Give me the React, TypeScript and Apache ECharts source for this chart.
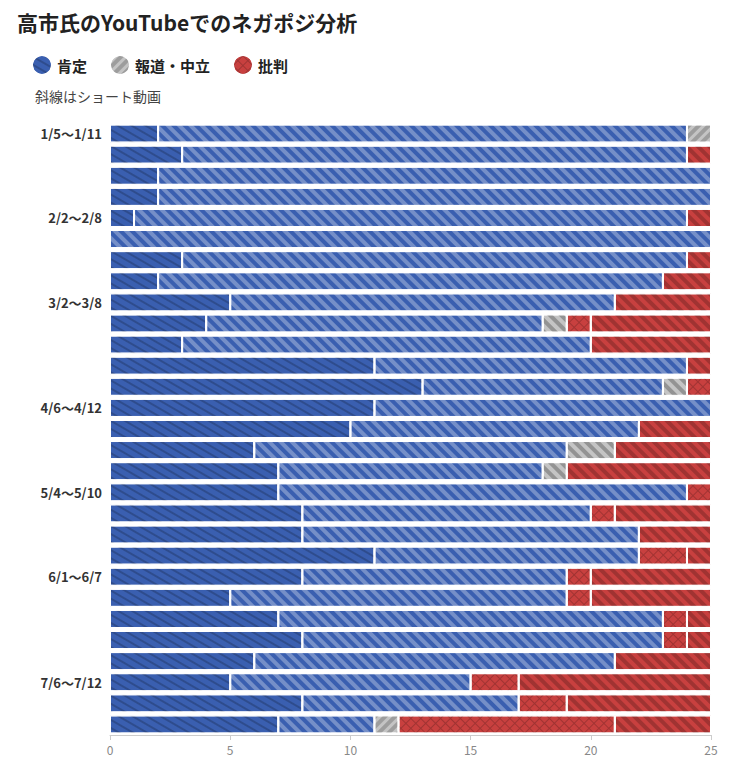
import { useEffect, useRef } from "react";
import * as echarts from "echarts";

// 週ごとの件数（1/5〜7/20）
const weeks = [
  "1/5〜1/11", "1/12〜1/18", "1/19〜1/25", "1/26〜2/1",
  "2/2〜2/8", "2/9〜2/15", "2/16〜2/22", "2/23〜3/1",
  "3/2〜3/8", "3/9〜3/15", "3/16〜3/22", "3/23〜3/29", "3/30〜4/5",
  "4/6〜4/12", "4/13〜4/19", "4/20〜4/26", "4/27〜5/3",
  "5/4〜5/10", "5/11〜5/17", "5/18〜5/24", "5/25〜5/31",
  "6/1〜6/7", "6/8〜6/14", "6/15〜6/21", "6/22〜6/28", "6/29〜7/5",
  "7/6〜7/12", "7/13〜7/19", "7/20〜7/26",
];
const shownLabels = ["1/5〜1/11", "2/2〜2/8", "3/2〜3/8", "4/6〜4/12", "5/4〜5/10", "6/1〜6/7", "7/6〜7/12"];

const posNormal = [2, 3, 2, 2, 1, 0, 3, 2, 5, 4, 3, 11, 13, 11, 10, 6, 7, 7, 8, 8, 11, 8, 5, 7, 8, 6, 5, 8, 7];
const posShort = [22, 21, 23, 23, 23, 25, 21, 21, 16, 14, 17, 13, 10, 14, 12, 13, 11, 17, 12, 14, 11, 11, 14, 16, 15, 15, 10, 9, 4];
const neuNormal = [1, 0, 0, 0, 0, 0, 0, 0, 0, 0, 0, 0, 0, 0, 0, 0, 0, 0, 0, 0, 0, 0, 0, 0, 0, 0, 0, 0, 1];
const neuShort = [0, 0, 0, 0, 0, 0, 0, 0, 0, 1, 0, 0, 1, 0, 0, 2, 1, 0, 0, 0, 0, 0, 0, 0, 0, 0, 0, 0, 0];
const negNormal = [0, 0, 0, 0, 0, 0, 0, 0, 0, 1, 0, 0, 1, 0, 0, 0, 0, 1, 1, 0, 2, 1, 1, 1, 1, 0, 2, 2, 9];
const negShort = [0, 1, 0, 0, 1, 0, 1, 2, 4, 5, 5, 1, 0, 0, 3, 4, 6, 0, 4, 3, 1, 5, 5, 1, 1, 4, 8, 6, 4];

const BLUE = "#3a5fb0";
const GRAY = "#c4c4c4";
const RED = "#c8403f";
const FONT = "'Noto Sans CJK JP', 'Noto Sans', sans-serif";

const hatch = (color: string) => ({
  symbol: "rect",
  symbolSize: 1,
  dashArrayX: [1, 0],
  dashArrayY: [4, 4],
  rotation: Math.PI / 4,
  color,
});

export default function App() {
  const ref = useRef<HTMLDivElement | null>(null);

  useEffect(() => {
    if (!ref.current) return;
    const chart = echarts.init(ref.current, undefined, { renderer: "svg" });

    const bar = (name: string, data: number[], color: string, decalColor?: string) => ({
      name,
      type: "bar" as const,
      stack: "all",
      barCategoryGap: "14%",
      data,
      itemStyle: {
        color,
        borderColor: "#fff",
        borderWidth: 1,
        decal: decalColor ? hatch(decalColor) : undefined,
      },
    });

    chart.setOption({
      animation: false,
      textStyle: { fontFamily: FONT },
      aria: { enabled: true, decal: { show: true } },
      title: [
        {
          text: "高市氏のYouTubeでのネガポジ分析",
          left: 12,
          top: 6,
          textStyle: { fontSize: 21, fontWeight: "bold", color: "#222", fontFamily: FONT },
        },
        {
          text: "斜線はショート動画",
          left: 30,
          top: 84,
          textStyle: { fontSize: 14, fontWeight: "normal", color: "#444", fontFamily: FONT },
        },
      ],
      legend: {
        left: 26,
        top: 49,
        icon: "circle",
        itemWidth: 20,
        itemHeight: 20,
        itemGap: 22,
        data: ["肯定", "報道・中立", "批判"],
        textStyle: { fontSize: 15, fontWeight: "bold", color: "#222", fontFamily: FONT },
      },
      grid: { left: 110, right: 39, top: 123, bottom: 41 },
      xAxis: {
        type: "value",
        min: 0,
        max: 25,
        interval: 5,
        axisLine: { show: true, lineStyle: { color: "#ccc" } },
        axisTick: { show: true, lineStyle: { color: "#ccc" } },
        axisLabel: { color: "#888", fontSize: 12 },
        splitLine: { show: false },
      },
      yAxis: {
        type: "category",
        inverse: true,
        data: weeks,
        axisLine: { show: false },
        axisTick: { show: false },
        axisLabel: {
          interval: 0,
          color: "#333",
          fontWeight: "bold",
          fontSize: 13,
          margin: 8,
          formatter: (v: string) => (shownLabels.includes(v) ? v : ""),
        },
      },
      series: [
        bar("肯定", posNormal, BLUE),
        bar("肯定（ショート）", posShort, BLUE, "rgba(255,255,255,0.3)"),
        bar("報道・中立", neuNormal, GRAY),
        bar("報道・中立（ショート）", neuShort, GRAY, "rgba(0,0,0,0.25)"),
        bar("批判", negNormal, RED),
        bar("批判（ショート）", negShort, RED, "rgba(0,0,0,0.2)"),
      ],
    });

    return () => chart.dispose();
  }, []);

  return (
    <div
      ref={ref}
      style={{ position: "fixed", left: 0, top: 0, width: 750, height: 776, background: "#fff" }}
    />
  );
}
